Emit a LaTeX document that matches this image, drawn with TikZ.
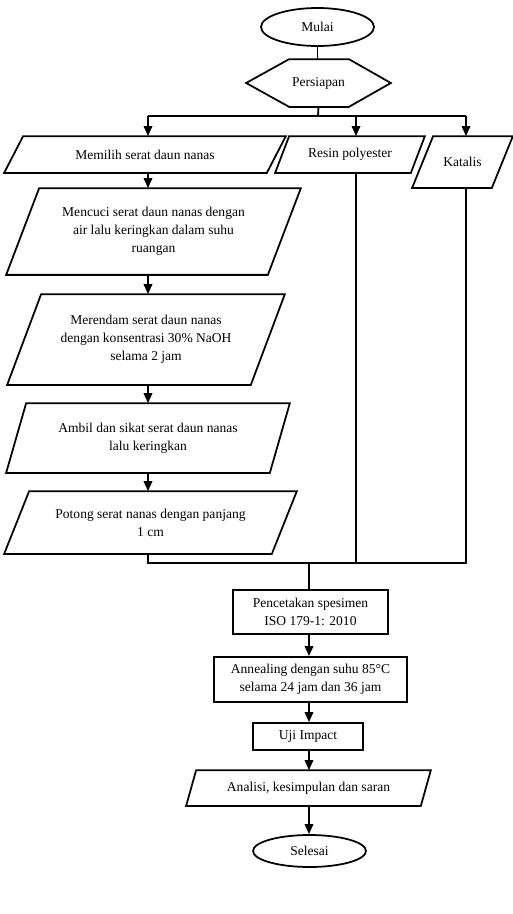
\documentclass[tikz,border=0pt]{standalone}
\usepackage{fontspec}
\setmainfont{Liberation Serif}
\usetikzlibrary{calc,arrows.meta,shapes.geometric}

\begin{document}
\begin{tikzpicture}[
    x=0.02cm,y=-0.02cm,line width=1pt,
    every node/.style={font=\fontsize{7.7}{10.2}\selectfont,align=center,inner sep=0pt},
    terminal/.style={draw,ellipse},
    proses/.style={draw,rectangle},
    arr/.style={-{Triangle[length=2mm,width=1.7mm]}}
  ]
  \useasboundingbox (0,0) rectangle (513,914);
  % simbol awal dan persiapan
  \node [terminal,minimum width=2.26cm,minimum height=0.76cm] (mulai) at (317.5,27) {Mulai};
  \node [minimum width=2.86cm,minimum height=0.92cm] (persiapan) at (318.5,83) {Persiapan};
  \draw (persiapan.west) -- ($(persiapan.north west)+(43,0)$) -- ($(persiapan.north east)-(42,0)$)
    -- (persiapan.east) -- ($(persiapan.south east)-(42,0)$) -- ($(persiapan.south west)+(43,0)$) -- cycle;
  % bahan
  \node [minimum width=5.6cm,minimum height=0.7cm] (memilih) at (145,154.5) {Memilih serat daun nanas};
  \node [minimum width=2.96cm,minimum height=0.7cm] (resin) at (350,154.5) {Resin polyester};
  \node [minimum width=1.98cm,minimum height=1cm] (katalis) at (462.5,162) {Katalis};
  \node [minimum width=5.86cm,minimum height=1.7cm] (mencuci) at (153.5,231.5)
    {Mencuci serat daun nanas dengan\\air lalu keringkan dalam suhu\\ruangan};
  \node [minimum width=5.52cm,minimum height=1.78cm] (merendam) at (146,339.5)
    {Merendam serat daun nanas\\dengan konsentrasi 30\% NaOH\\selama 2 jam};
  \node [minimum width=5.64cm,minimum height=1.36cm] (ambil) at (148,438)
    {Ambil dan sikat serat daun nanas\\lalu keringkan};
  \node [minimum width=5.82cm,minimum height=1.22cm] (potong) at (150.5,522.5)
    {Potong serat nanas dengan panjang\\1 cm};
  % proses
  \node [proses,minimum width=3.1cm,minimum height=0.88cm] (pencetakan) at (310.5,612)
    {Pencetakan spesimen\\ISO 179-1: 2010};
  \node [proses,minimum width=3.86cm,minimum height=0.9cm] (annealing) at (310.5,679.5)
    {Annealing dengan suhu 85°C\\selama 24 jam dan 36 jam};
  \node [proses,minimum width=2.2cm,minimum height=0.54cm] (uji) at (308,736.5) {Uji Impact};
  \node [minimum width=4.86cm,minimum height=0.68cm] (analisi) at (308.5,788) {Analisi, kesimpulan dan saran};
  \node [terminal,minimum width=2.26cm,minimum height=0.64cm] (selesai) at (309.5,851) {Selesai};
  % jajaran genjang
  \foreach \n/\s in {memilih/19,resin/14,katalis/21,mencuci/33,merendam/34,ambil/20,potong/25,analisi/10}
    \draw ($(\n.north west)+(\s,0)$) -- (\n.north east) -- ($(\n.south east)-(\s,0)$) -- (\n.south west) -- cycle;
  % garis penghubung
  \coordinate (kiri) at (148,0);
  \coordinate (tengah) at (356,0);
  \coordinate (kanan) at (466,0);
  \coordinate (cabang) at (318,116);
  \coordinate (gabung) at (309,563);
  \draw (mulai.south) -- (mulai.south |- persiapan.north);
  \draw (persiapan.south) -- (cabang);
  \draw (kiri |- cabang) -- (kanan |- cabang);
  \foreach \c/\n in {kiri/memilih,tengah/resin,kanan/katalis}
    \draw [arr] (\c |- cabang) -- (\c |- \n.north);
  \foreach \a/\b in {memilih/mencuci,mencuci/merendam,merendam/ambil,ambil/potong}
    \draw [arr] (kiri |- \a.south) -- (kiri |- \b.north);
  \draw (kiri |- potong.south) |- (kanan |- gabung) -- (kanan |- katalis.south);
  \draw (tengah |- resin.south) -- (tengah |- gabung);
  \draw (gabung) -- (gabung |- pencetakan.north);
  \foreach \a/\b in {pencetakan/annealing,annealing/uji,uji/analisi,analisi/selesai}
    \draw [arr] (gabung |- \a.south) -- (gabung |- \b.north);
\end{tikzpicture}
\end{document}
